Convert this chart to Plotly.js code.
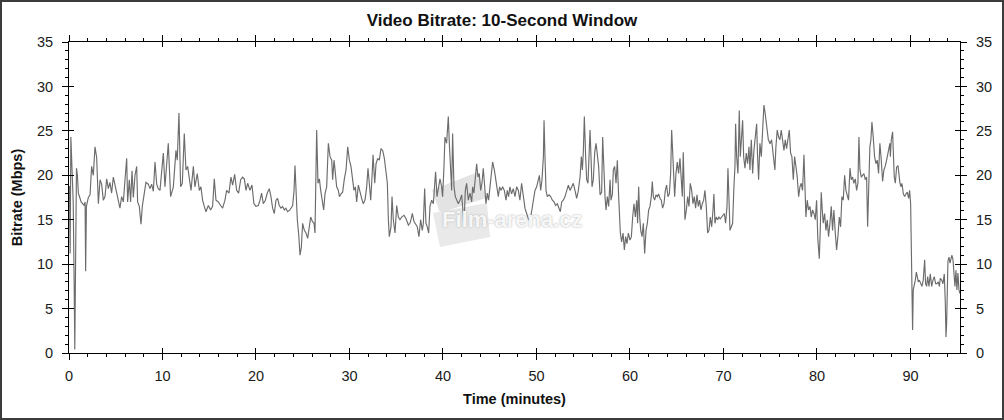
<!DOCTYPE html>
<html>
<head>
<meta charset="utf-8">
<script src="https://cdn.plot.ly/plotly-3.0.1.min.js"></script>
<style>
html,body{margin:0;padding:0;background:#fff;}
#wrap{position:relative;width:1004px;height:420px;}
#chart{width:1004px;height:420px;}
#frame{position:absolute;left:0;top:0;width:1004px;height:420px;box-sizing:border-box;border:2px solid #3c3c3c;pointer-events:none;}
</style>
</head>
<body>
<div id="wrap"><div id="chart"></div><div id="frame"></div></div>
<script>
// ---- data (time in minutes, bitrate in Mbps) ----
const time1 = [0.05,0.12,0.2,0.28,0.35,0.45,0.55,0.62,0.72,0.8,0.9,1.0,1.15,1.3,1.45,1.6,1.72,1.78,1.86,1.95,2.07,2.25,2.42,2.6,2.78,2.96,3.14,3.32,3.49,3.67,3.85,4.03,4.21,4.38,4.56,4.74,4.92,5.1,5.28,5.45,5.63,5.81,5.99,6.17,6.27,6.45,6.59,6.74,6.88,7.06,7.24,7.34,7.52,7.7,7.84,8.02,8.23,8.48,8.66,8.84,9.02,9.2,9.38,9.55];
const rate1 = [18.8,11.2,24.3,21,19.5,17,8,0.4,12,20.8,20,18,17.5,17,16.8,16.6,17,9.2,16.5,17,17.5,17.8,21,20,23.2,22,16.8,19.5,19,17.2,17.6,19.6,18.5,19.2,18,19.8,19,18,17.2,16.3,17.6,17,19.5,21.9,17,19.5,17,20.5,17.5,20,21,17,16.5,14.5,16.5,18,19.2,19,18.5,19,18.2,21.5,19,18.5];

const time2 = [9.73,10.09,10.26,10.62,10.87,11.16,11.44,11.58,11.76,11.94,12.12,12.33,12.51,12.69,12.87,13.05,13.3,13.47,13.72,13.94,14.11,14.29,14.47,14.65,14.9,15.15,15.36,15.54,15.72,15.97,16.22,16.43,16.68,16.86,17.11,17.32,17.5,17.72,17.93,18.14,18.36,18.57,18.75,18.93,19.11,19.36,19.57,19.78,20.0,20.25,20.43,20.6,20.78,21.0,21.21,21.42,21.6,21.78,21.96,22.14,22.31,22.49,22.67,22.85,23.03,23.2,23.38,23.63];
const rate2 = [18.3,22.5,18.7,23.6,17.6,18.7,22.8,21.7,27.0,18.7,19.1,24.7,20.6,21.0,19.5,18.3,21.0,18.7,20.2,18.3,18.7,17.2,16.5,15.9,16.6,16.1,16.5,19.6,17.2,17.0,16.6,16.3,17.2,18.3,18.0,19.8,18.9,20.1,18.3,18.0,19.5,19.8,19.6,18.3,19.1,18.3,18.9,16.8,16.5,16.6,17.2,18.0,16.8,17.2,18.0,18.5,17.6,16.3,15.7,17.2,17.4,16.6,16.3,16.5,16.1,16.3,15.9,16.1];

const time3 = [23.92,24.07,24.17,24.28,24.42,24.57,24.71,24.85,24.99,25.17,25.35,25.53,25.71,25.85,26.03,26.21,26.31,26.42,26.49,26.63,26.78,26.92,27.1,27.24,27.38,27.56,27.74,27.92,28.1,28.2,28.35,28.49,28.63,28.81,28.92,29.09,29.27,29.45,29.63,29.81,29.99,30.16,30.34,30.48,30.63,30.77,30.95,31.13,31.3,31.48,31.66,31.84,31.98,32.12,32.27,32.41,32.52,32.7,32.84,33.02,33.19,33.37,33.55,33.73,33.91,34.05,34.16,34.26,34.44,34.55,34.69,34.87,35.05,35.23,35.4,35.58,35.83,36.05,36.3,36.47];
const rate3 = [16.6,18.3,21.1,18.3,15.0,13.3,11.0,11.9,14.6,13.8,13.5,12.9,14.2,15.3,14.8,14.6,13.5,20.2,25.1,19.1,19.6,18.3,17.2,16.1,17.9,18.7,23.6,22.1,21.7,19.5,21.7,19.8,18.7,18.3,17.6,17.9,18.1,19.6,20.6,23.2,21.7,21.0,19.1,18.3,18.7,17.0,18.9,18.0,17.4,16.8,17.2,18.7,20.8,19.1,17.2,19.8,22.3,19.1,21.3,21.9,21.7,23.0,22.8,21.9,20.6,19.1,15.0,13.1,14.2,17.6,15.0,13.5,16.6,15.3,15.0,15.3,15.5,15.1,14.4,14.6];

const time4 = [36.58,36.72,36.9,37.08,37.25,37.43,37.61,37.79,37.9,38.04,38.18,38.32,38.47,38.61,38.79,38.97,39.11,39.21,39.36,39.5,39.68,39.86,39.96,40.11,40.21,40.39,40.57,40.68,40.82,40.93,41.03,41.18,41.32,41.46,41.64,41.82,42.0,42.1,42.24,42.39,42.53,42.71,42.89,43.07,43.17,43.31,43.49,43.6,43.74,43.88,44.03,44.17,44.31,44.46,44.6,44.74,44.88,45.03,45.17,45.31,45.49,45.63,45.77,45.92,46.06,46.2,46.38,46.56,46.74,46.88,47.02,47.16,47.34,47.52,47.7,47.88,48.06,48.23,48.41,48.59,48.77,48.95,49.13];
const rate4 = [15.0,15.7,14.8,14.4,14.2,13.1,15.0,13.8,14.6,18.5,14.6,14.2,13.5,16.5,17.2,16.8,18.5,20.4,17.6,18.3,19.6,18.7,17.6,21.0,24.3,23.6,26.6,23.6,21.0,18.3,24.7,18.7,17.6,17.2,16.8,17.2,17.8,16.5,14.2,18.3,19.1,17.2,18.0,17.0,18.7,18.0,19.8,21.3,19.8,20.2,18.3,19.1,20.8,18.3,16.8,18.0,17.2,18.7,20.6,21.5,20.6,19.5,18.3,17.6,18.7,18.3,18.7,18.3,17.2,18.3,17.6,18.7,17.9,18.5,17.6,18.7,18.3,17.2,19.1,17.6,16.3,15.7,15.1];

const time5 = [49.31,49.49,49.67,49.84,50.02,50.2,50.31,50.45,50.59,50.74,50.81,50.91,51.02,51.16,51.34,51.52,51.7,51.88,52.05,52.23,52.41,52.55,52.7,52.87,53.05,53.23,53.41,53.59,53.77,53.94,54.12,54.3,54.48,54.66,54.8,54.91,55.01,55.12,55.26,55.37,55.51,55.62,55.73,55.83,55.94,56.08,56.23,56.37,56.51,56.65,56.8,56.97,57.08,57.19,57.33,57.44,57.58,57.72,57.87,57.97,58.12,58.22,58.36,58.51,58.65,58.79,58.86,58.97,59.11,59.26,59.4,59.54,59.68,59.83,60.0,60.15,60.29,60.43,60.58,60.72,60.82,60.93,61.04,61.15,61.29,61.43,61.57,61.72,61.86,62.0,62.14];
const rate5 = [14.8,16.1,17.6,18.3,18.7,19.5,20.0,18.3,19.5,22.1,26.2,22.1,18.3,17.6,17.8,17.6,17.2,17.0,16.6,16.8,16.3,15.9,17.0,17.2,17.6,18.3,18.9,18.3,18.7,19.1,18.3,17.4,18.3,19.8,22.1,20.6,22.6,26.6,22.1,19.5,19.1,22.1,25.1,22.1,18.7,19.5,22.6,23.6,22.1,21.0,17.8,18.1,24.3,20.2,17.6,16.1,17.6,16.5,19.5,17.2,17.9,20.6,21.0,19.1,21.7,17.6,15.3,13.5,12.5,13.5,11.6,13.1,12.3,13.5,12.7,13.1,15.3,16.8,15.3,17.2,14.6,18.7,15.3,13.8,13.1,14.6,11.2,13.8,14.6,16.1,16.5];

const time6 = [62.28,62.39,62.5,62.64,62.78,62.92,63.07,63.21,63.35,63.49,63.64,63.78,63.92,64.06,64.21,64.35,64.46,64.56,64.67,64.78,64.92,65.06,65.2,65.35,65.49,65.6,65.7,65.81,65.88,66.03,66.17,66.31,66.45,66.6,66.74,66.88,67.02,67.17,67.31,67.45,67.59,67.74,67.88,68.02,68.16,68.31,68.45,68.59,68.74,68.88,68.98,69.09,69.23,69.38,69.52,69.66,69.8,69.95,70.09,70.23,70.38,70.48,70.59,70.7,70.84,70.98,71.12,71.23,71.3,71.41,71.55,71.69,71.8,71.94,72.05,72.16,72.3,72.44,72.58,72.73,72.83,72.98,73.12,73.26,73.4,73.55,73.65,73.76,73.9,74.05,74.19,74.33,74.47,74.62,74.8,74.97];
const rate6 = [17.6,19.3,17.6,17.2,17.8,17.6,17.9,17.4,17.2,16.3,16.8,18.3,18.9,17.6,17.9,20.2,25.1,22.8,20.2,17.6,20.2,21.5,20.2,21.9,19.5,17.6,22.6,18.3,15.0,16.1,17.6,16.5,19.1,18.3,16.8,17.6,16.3,17.8,16.5,17.2,16.1,16.8,17.2,18.3,16.5,13.5,13.8,15.3,14.2,16.1,17.9,14.6,15.3,15.0,15.3,15.1,15.3,15.5,15.7,14.6,16.5,20.8,16.5,13.8,14.2,14.6,18.7,21.0,25.8,22.1,20.2,27.3,22.1,24.3,26.2,22.1,20.8,22.5,21.3,23.2,20.6,24.0,20.2,22.8,24.0,25.8,22.1,19.5,23.6,22.1,25.1,27.9,26.9,25.8,24.0,23.6];

const time7 = [75.0,75.15,75.25,75.4,75.5,75.61,75.75,75.9,76.04,76.18,76.32,76.47,76.61,76.75,76.89,77.04,77.18,77.32,77.47,77.61,77.75,77.89,78.04,78.18,78.32,78.46,78.61,78.71,78.82,78.96,79.1,79.25,79.39,79.53,79.68,79.82,79.96,80.1,80.25,80.35,80.46,80.57,80.67,80.82,80.96,81.1,81.24,81.39,81.53,81.67,81.81,81.96,82.1,82.24,82.39,82.53,82.67,82.81,82.96,83.1,83.24,83.38,83.53,83.67,83.81,83.95,84.1,84.24,84.38,84.49,84.6,84.74,84.88,85.02,85.17,85.31,85.42,85.52,85.66,85.77,85.88,86.02,86.16,86.31,86.45,86.59,86.73,86.88,87.02,87.16,87.3,87.45,87.59,87.73,87.8];
const rate7 = [23.6,24.0,23.0,22.1,20.6,23.2,25.1,24.3,24.0,25.1,23.6,22.8,24.0,23.0,24.0,25.1,22.5,22.1,19.5,22.1,21.0,19.8,17.6,18.7,19.1,18.3,22.3,18.3,15.3,17.2,16.1,16.5,15.3,16.1,15.7,15.0,17.2,12.7,10.6,13.8,18.1,16.1,14.6,15.7,13.8,15.0,13.1,14.6,16.5,13.8,16.1,13.5,11.6,13.1,15.3,14.2,17.6,17.2,20.0,18.3,17.6,17.2,20.8,19.5,19.8,19.1,19.6,18.3,19.1,24.3,20.6,19.8,20.0,20.2,19.5,19.8,14.2,19.8,23.2,24.0,26.0,24.3,22.1,21.3,21.7,20.2,23.6,21.7,19.3,20.6,21.0,21.7,22.5,23.2,23.6];

const time8 = [87.85,87.95,88.09,88.17,88.27,88.38,88.52,88.67,88.77,88.88,88.99,89.09,89.24,89.38,89.52,89.66,89.81,89.91,90.02,90.09,90.16,90.23,90.3,90.41,90.52,90.63,90.73,90.84,90.95,91.09,91.23,91.37,91.52,91.62,91.73,91.84,91.98,92.12,92.27,92.41,92.55,92.69,92.84,92.98,93.09,93.19,93.34,93.48,93.62,93.73,93.8,93.87,93.94,94.01,94.12,94.23,94.33,94.44,94.55,94.65,94.76,94.87,94.97,95.08,95.19,95.3];
const rate8 = [22.1,24.0,24.9,22.1,19.8,19.1,20.9,21.1,19.8,19.1,18.7,19.1,17.9,17.6,17.9,18.1,17.4,18.3,16.8,12.7,7.1,2.6,7.1,7.5,8.2,9.1,8.4,8.0,8.2,7.8,7.5,8.2,10.5,7.8,7.5,8.6,7.5,8.9,7.5,8.2,8.6,7.8,7.8,8.0,7.5,8.4,8.2,7.8,8.9,5.6,1.8,3.3,7.1,10.3,10.8,10.1,10.6,11.0,10.5,9.0,7.5,9.3,7.1,9.0,7.1,6.7];

const xTickVals = [0,10,20,30,40,50,60,70,80,90];
const xTickText = ['0','10','20','30','40','50','60','70','80','90'];
const yTickVals = [0,5,10,15,20,25,30,35];
const yTickText = ['0','5','10','15','20','25','30','35'];

const chartTitle = 'Video Bitrate: 10-Second Window';
const xTitle = 'Time (minutes)';
const yTitle = 'Bitrate (Mbps)';
const watermark = 'Film-arena.cz';

// ---- build ----
const timeMin = [].concat(time1,time2,time3,time4,time5,time6,time7,time8);
const bitrate = [].concat(rate1,rate2,rate3,rate4,rate5,rate6,rate7,rate8);

const XR = [0, 95.3], YR = [0, 35];
const FONT = 'Liberation Sans, Arial, Helvetica, sans-serif';
const tickFont = {family: FONT, size: 14.5, color: '#1a1a1a'};
const titleFont = {family: FONT, size: 14.5, color: '#111', weight: 'bold'};

const traces = [
  {x: timeMin, y: bitrate, type: 'scatter', mode: 'lines', xaxis: 'x', yaxis: 'y',
   line: {color: '#6c6c6c', width: 1.15}, hoverinfo: 'skip', showlegend: false},
  {x: [null], y: [null], type: 'scatter', mode: 'lines', xaxis: 'x', yaxis: 'y2', showlegend: false, hoverinfo: 'skip'},
  {x: [null], y: [null], type: 'scatter', mode: 'lines', xaxis: 'x2', yaxis: 'y3', showlegend: false, hoverinfo: 'skip'}
];

const baseAx = {showgrid: false, zeroline: false, showline: true, linecolor: '#000', linewidth: 1, tickcolor: '#000', tickwidth: 1, fixedrange: true};

const layout = {
  width: 1004, height: 420,
  margin: {l: 69, r: 44, t: 42, b: 67, pad: 0},
  paper_bgcolor: '#ffffff', plot_bgcolor: '#ffffff',
  showlegend: false,
  title: {text: chartTitle, x: 0.5, xref: 'container', xanchor: 'center', y: 1 - 20/420, yref: 'container', yanchor: 'middle',
          font: {family: FONT, size: 17, color: '#111', weight: 'bold'}},
  xaxis: Object.assign({}, baseAx, {
    range: XR, tickmode: 'array', tickvals: xTickVals, ticktext: xTickText,
    ticks: 'outside', ticklen: 6, mirror: 'ticks',
    minor: {dtick: 2, tick0: 0, ticks: 'outside', ticklen: 3, tickcolor: '#000', showgrid: false},
    tickfont: tickFont, ticklabelstandoff: 4,
    title: {text: xTitle, font: titleFont, standoff: 10}
  }),
  xaxis2: Object.assign({}, baseAx, {
    overlaying: 'x', anchor: 'y', side: 'bottom', range: XR,
    tickmode: 'array', tickvals: xTickVals, ticks: 'inside', ticklen: 5, mirror: 'ticks', showticklabels: false
  }),
  yaxis: Object.assign({}, baseAx, {
    range: YR, tickmode: 'array', tickvals: yTickVals, ticktext: yTickText,
    ticks: 'outside', ticklen: 6,
    minor: {dtick: 1, tick0: 0, ticks: 'outside', ticklen: 3, tickcolor: '#000', showgrid: false},
    tickfont: tickFont, ticklabelstandoff: 6,
    title: {text: yTitle, font: titleFont, standoff: 10}
  }),
  yaxis2: Object.assign({}, baseAx, {
    overlaying: 'y', side: 'right', anchor: 'x', range: YR,
    tickmode: 'array', tickvals: yTickVals, ticktext: yTickText,
    ticks: 'outside', ticklen: 6,
    minor: {dtick: 1, tick0: 0, ticks: 'outside', ticklen: 3, tickcolor: '#000', showgrid: false},
    tickfont: tickFont, ticklabelstandoff: 6
  }),
  yaxis3: Object.assign({}, baseAx, {
    overlaying: 'y', anchor: 'x', side: 'left', range: YR,
    tickmode: 'array', tickvals: yTickVals, ticks: 'inside', ticklen: 5, mirror: 'ticks', showticklabels: false
  }),
  shapes: [
    {type: 'path', xref: 'paper', yref: 'paper', layer: 'below', line: {width: 0}, fillcolor: '#e3e3e3',
     path: 'M0.4074,0.524 L0.459,0.582 L0.468,0.498 L0.4164,0.45 Z'},
    {type: 'path', xref: 'paper', yref: 'paper', layer: 'below', line: {width: 0}, fillcolor: '#e9e9e9',
     path: 'M0.4085,0.45 L0.4164,0.341 L0.4725,0.373 L0.4691,0.482 Z'}
  ],
  annotations: [
    {text: watermark, xref: 'paper', yref: 'paper', x: (512-69)/891, y: (353-219)/311, xanchor: 'center', yanchor: 'middle',
     showarrow: false, font: {family: FONT, size: 22, color: '#f7f7f7', weight: 'bold', shadow: '0 0 2px #a8a8a8'}}
  ]
};

Plotly.newPlot('chart', traces, layout, {staticPlot: true, displayModeBar: false});
</script>
</body>
</html>
